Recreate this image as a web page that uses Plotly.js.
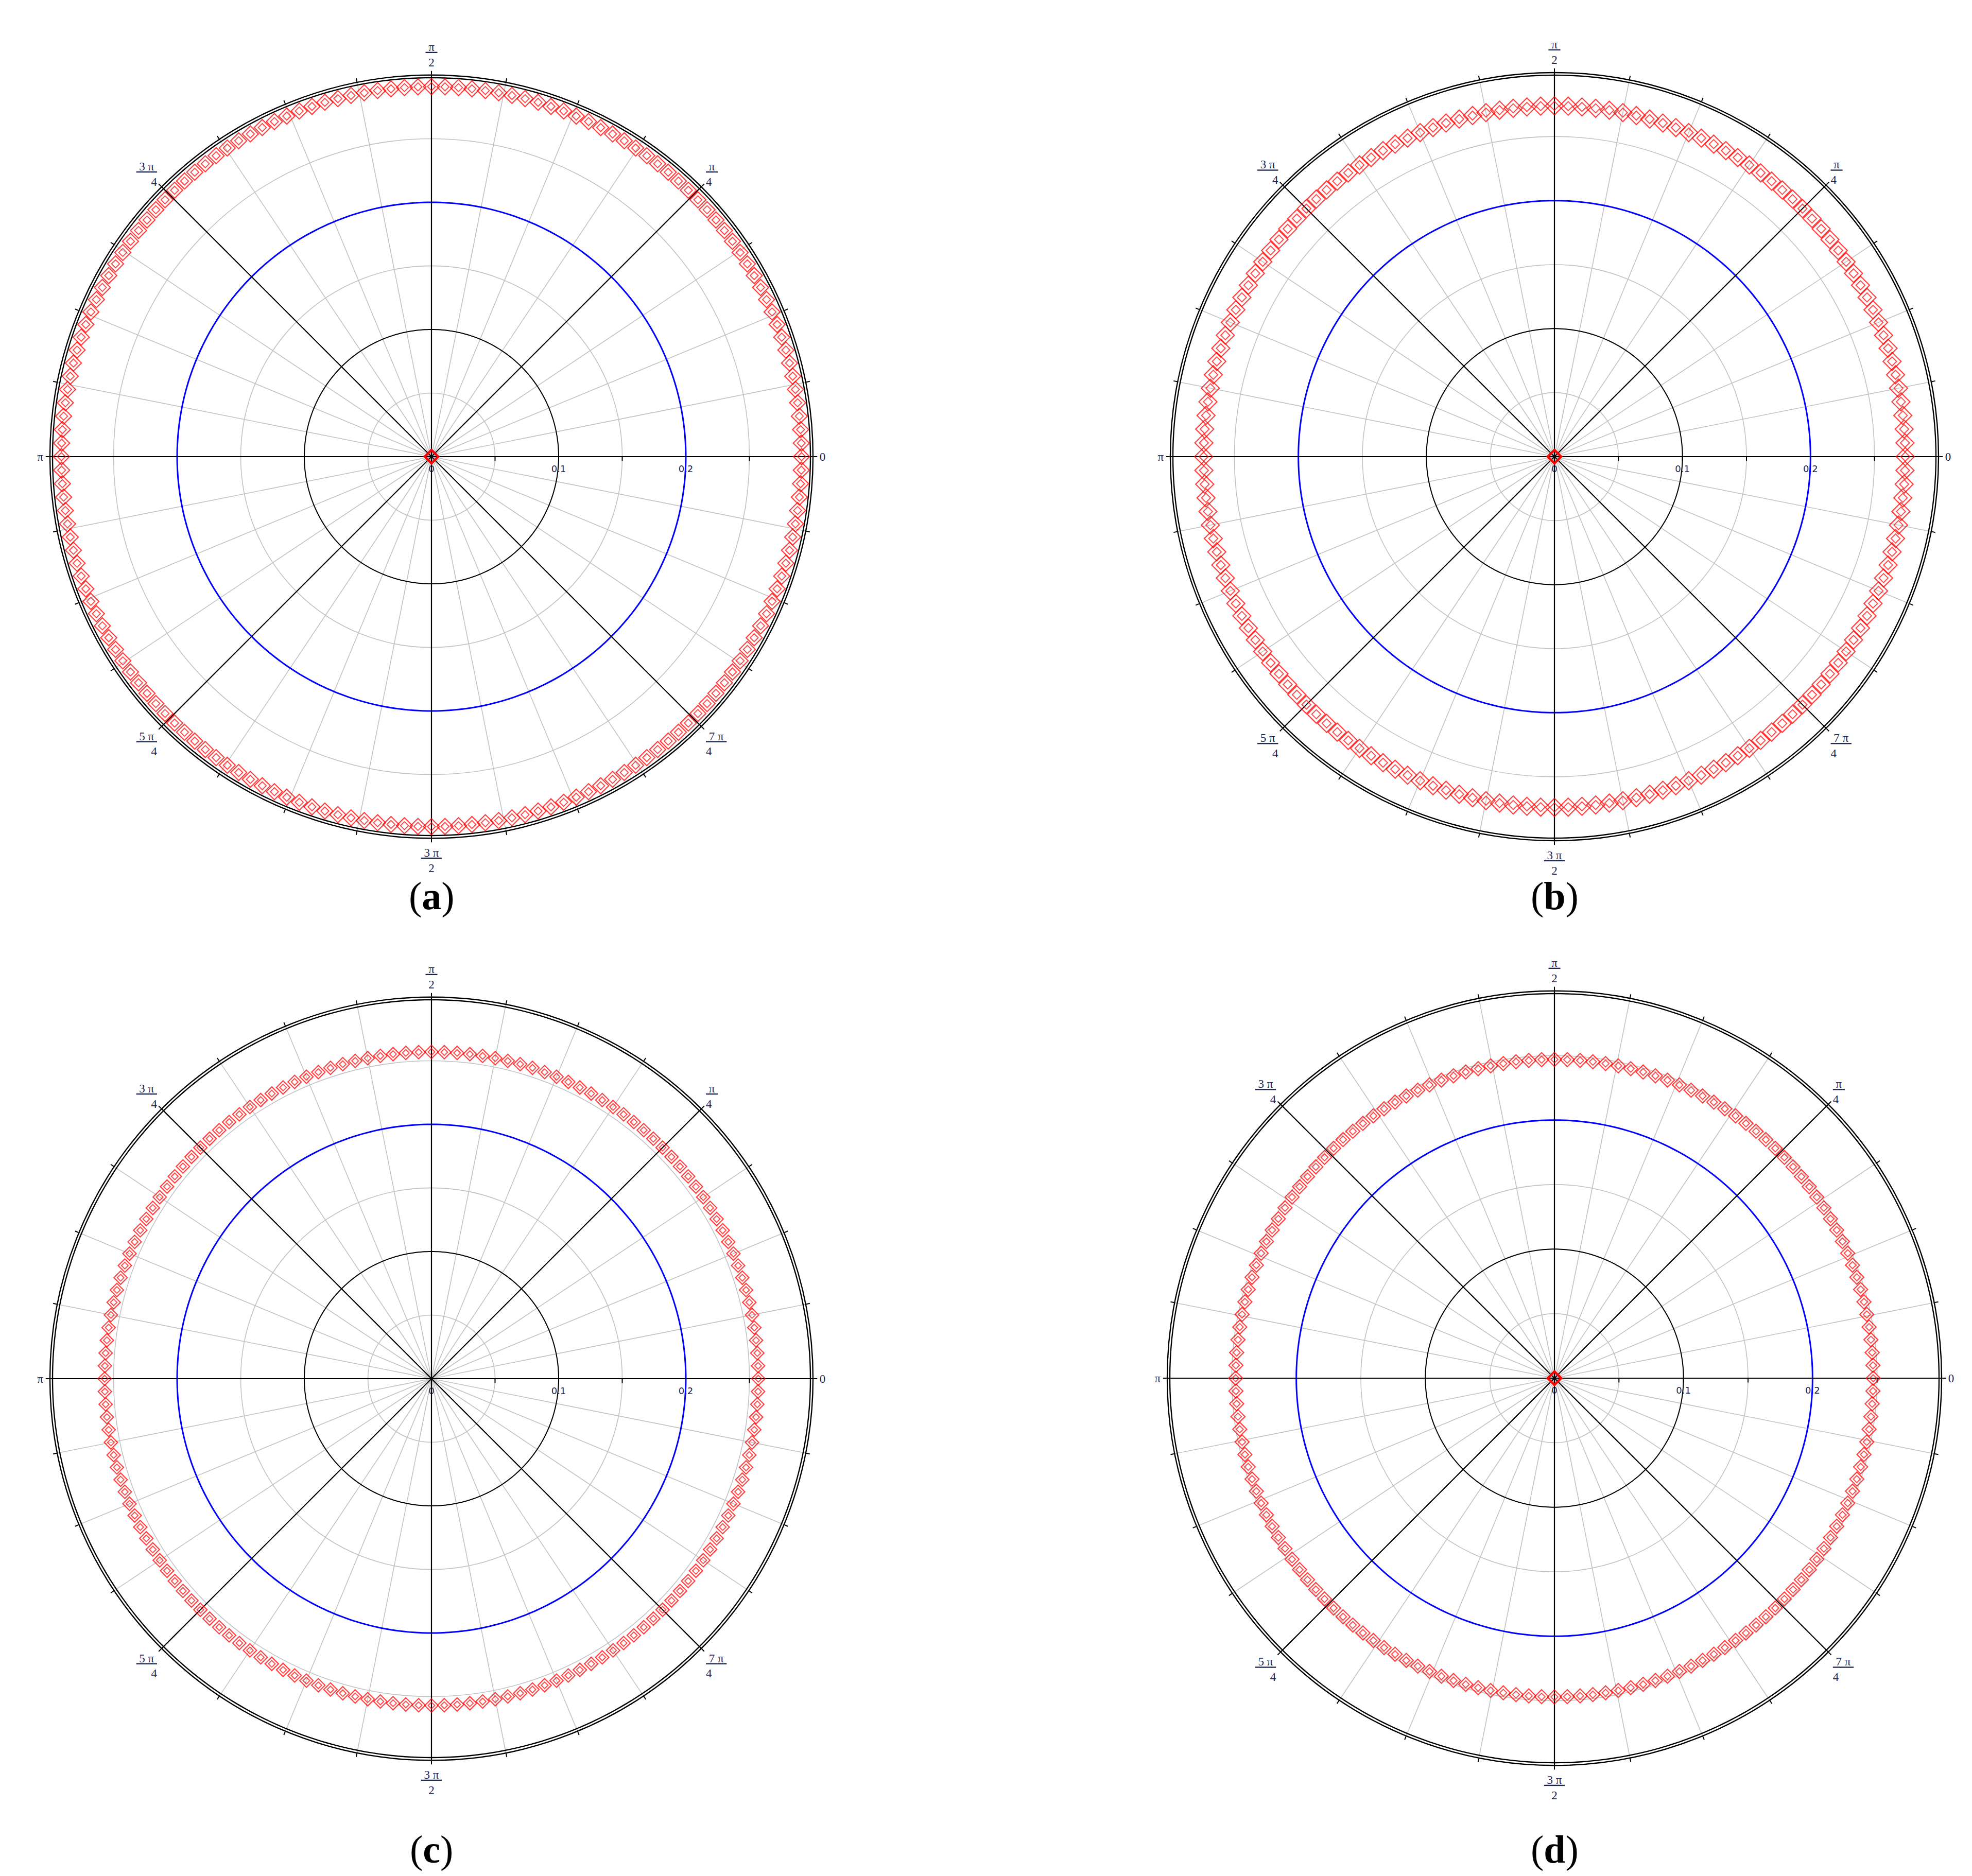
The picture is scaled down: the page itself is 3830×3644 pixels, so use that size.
<!DOCTYPE html>
<html>
<head>
<meta charset="utf-8">
<script src="https://cdn.plot.ly/plotly-3.0.1.min.js"></script>
<style>html,body{margin:0;padding:0;background:#fff;}</style>
</head>
<body>
<div id="chart" style="width:3830px;height:3644px;"></div>
<script>
// ---- data ----
const panelLabels = ['a', 'b', 'c', 'd'];
const ringRadius = [0.291, 0.274, 0.257, 0.247];   // red diamond ring radius
const ringCount = [172, 160, 160, 156];            // diamonds around the ring
const hasCenterPoint = [true, true, false, true];  // red diamond at r = 0
const blueRadius = [0.2, 0.2, 0.2, 0.2];
const blackRadius = [0.1, 0.1, 0.1, 0.1];
const radialTickVals = [0, 0.05, 0.1, 0.15, 0.2, 0.25, 0.3];
const radialTickText = ['0', '', '0.1', '', '0.2', '', ''];
const angleLabelDeg = [0, 45, 90, 135, 180, 225, 270, 315];
const angleLabelNum = ['0', 'π', 'π', '3 π', 'π', '5 π', '3 π', '7 π'];
const angleLabelDen = ['', '4', '2', '4', '', '4', '2', '4'];
const radialMax = 0.3;

// ---- style / layout ----
const W = 3830, H = 3644;
const centersPx = [[838, 887], [3019, 887], [838, 2678], [3019, 2677]];
const radiusPx = [741, 746, 741, 752];
const markerSize = [24, 27, 20, 21];
const labelPos = [[838, 1740], [3019, 1740], [838, 3592], [3019, 3592]];

function frac(n, d) {
  if (!d) return n;
  return '<span style="text-decoration:underline">\u00a0' + n + '\u00a0</span><br>' + d;
}
const angTickVals = [], angTickText = [];
for (let k = 0; k < 32; k++) {
  const deg = k * 11.25;
  angTickVals.push(deg);
  const idx = angleLabelDeg.indexOf(deg);
  angTickText.push(idx >= 0 ? frac(angleLabelNum[idx], angleLabelDen[idx]) : '');
}
const circleTheta = [];
for (let t = 0; t <= 360; t += 1) circleTheta.push(t);
function constArr(v, n) { return new Array(n).fill(v); }

const traces = [];
const layout = {
  width: W, height: H,
  margin: {l: 0, r: 0, t: 0, b: 0},
  paper_bgcolor: 'white',
  showlegend: false,
  annotations: []
};

panelLabels.forEach((lab, i) => {
  const sub = i === 0 ? 'polar' : 'polar' + (i + 1);
  const [cx, cy] = centersPx[i];
  const R = radiusPx[i];
  const unitPx = R / radialMax;
  layout[sub] = {
    domain: {x: [(cx - R) / W, (cx + R) / W], y: [1 - (cy + R) / H, 1 - (cy - R) / H]},
    bgcolor: 'white',
    radialaxis: {
      range: [0, radialMax], tickmode: 'array', tickvals: radialTickVals, ticktext: radialTickText,
      angle: 0, side: 'clockwise', showline: false, ticks: 'outside', ticklen: 8, tickwidth: 2,
      tickcolor: 'black', gridcolor: '#c2c2c2', gridwidth: 1.6, tickangle: 0,
      tickfont: {family: 'DejaVu Sans', size: 18, color: '#1c2450'}, layer: 'below traces'
    },
    angularaxis: {
      rotation: 0, direction: 'counterclockwise', tickmode: 'array',
      tickvals: angTickVals, ticktext: angTickText, ticks: 'outside', ticklen: 7, tickwidth: 2,
      tickcolor: 'black', showline: true, linecolor: 'black', linewidth: 2.4,
      gridcolor: '#c2c2c2', gridwidth: 1.6,
      tickfont: {family: 'Liberation Serif', size: 23, color: '#1c2450'}, layer: 'below traces'
    }
  };
  const n = circleTheta.length;
  // black circle at 0.1
  traces.push({type: 'scatterpolar', subplot: sub, mode: 'lines', r: constArr(blackRadius[i], n), theta: circleTheta,
    line: {color: 'black', width: 2}, hoverinfo: 'skip'});
  // blue circle at 0.2
  traces.push({type: 'scatterpolar', subplot: sub, mode: 'lines', r: constArr(blueRadius[i], n), theta: circleTheta,
    line: {color: '#0000ff', width: 3}, hoverinfo: 'skip'});
  // inner line of the double frame
  traces.push({type: 'scatterpolar', subplot: sub, mode: 'lines', r: constArr(radialMax - 5 / unitPx, n), theta: circleTheta,
    line: {color: 'black', width: 2.4}, hoverinfo: 'skip', cliponaxis: false});
  // black spokes at multiples of pi/4
  const spR = [], spT = [];
  const L = radialMax + 20 / unitPx;
  angleLabelDeg.forEach(d => { spR.push(L, 0); spT.push(d, d); });
  traces.push({type: 'scatterpolar', subplot: sub, mode: 'lines', r: spR, theta: spT,
    line: {color: 'black', width: 2.2}, hoverinfo: 'skip', cliponaxis: false});
  // red diamond ring
  const N = ringCount[i];
  const rt = [];
  for (let k = 0; k < N; k++) rt.push(k * 360 / N);
  traces.push({type: 'scatterpolar', subplot: sub, mode: 'markers', r: constArr(ringRadius[i], N), theta: rt,
    marker: {symbol: 'diamond-open', size: markerSize[i], color: 'rgba(255,0,0,0.75)', line: {width: 2.2}}, hoverinfo: 'skip'});
  traces.push({type: 'scatterpolar', subplot: sub, mode: 'markers', r: constArr(ringRadius[i], N), theta: rt,
    marker: {symbol: 'diamond-open', size: markerSize[i] * 0.5, color: 'rgba(255,0,0,0.7)', line: {width: 2}}, hoverinfo: 'skip'});
  if (hasCenterPoint[i]) {
    traces.push({type: 'scatterpolar', subplot: sub, mode: 'markers', r: [0], theta: [0],
      marker: {symbol: 'diamond-open', size: 20, color: '#ff0000', line: {width: 4.5}}, hoverinfo: 'skip', cliponaxis: false});
  }
  layout.annotations.push({
    xref: 'paper', yref: 'paper', x: labelPos[i][0] / W, y: 1 - labelPos[i][1] / H,
    xanchor: 'center', yanchor: 'middle', showarrow: false,
    text: '(<b>' + lab + '</b>)', font: {family: 'Liberation Serif', size: 76, color: 'black'}
  });
});

Plotly.newPlot('chart', traces, layout, {staticPlot: true});
</script>
</body>
</html>
